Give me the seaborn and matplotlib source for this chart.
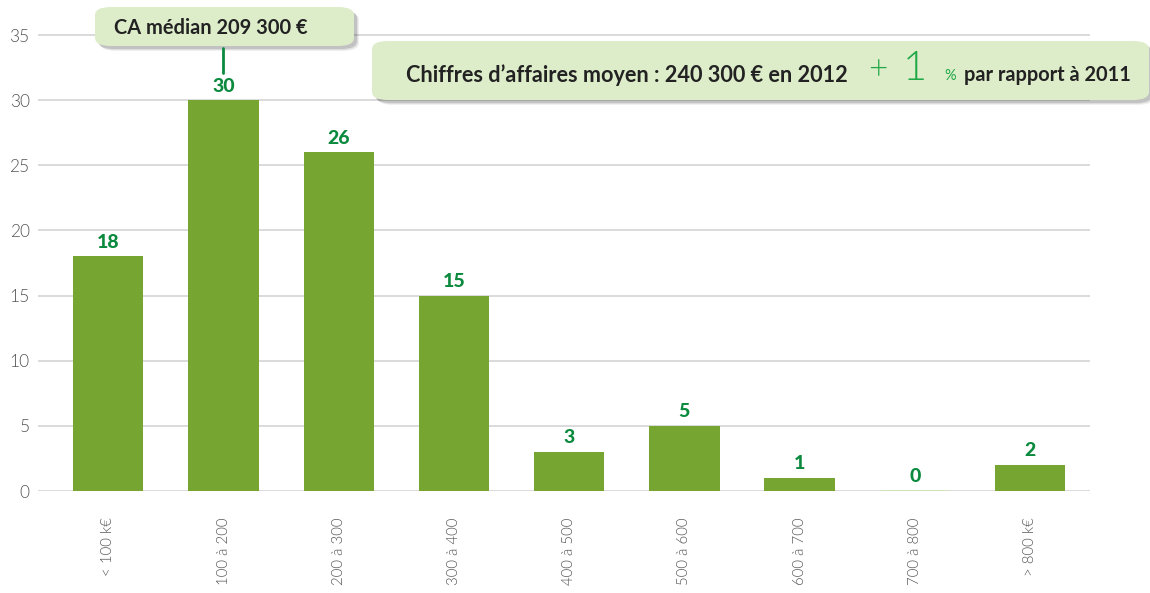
import matplotlib
matplotlib.use("Agg")
import matplotlib.pyplot as plt
import seaborn as sns
import pandas as pd
from matplotlib.patches import FancyBboxPatch

categories = ["< 100 k€", "100 à 200", "200 à 300", "300 à 400", "400 à 500",
              "500 à 600", "600 à 700", "700 à 800", "> 800 k€"]
values = [18, 30, 26, 15, 3, 5, 1, 0, 2]
yticks = [0, 5, 10, 15, 20, 25, 30, 35]
median_text = "CA médian 209 300 €"
mean_text = "Chiffres d’affaires moyen : 240 300 € en 2012"
delta_text = "1"
tail_text = "par rapport à 2011"

BAR = "#76A532"
VAL = "#0B8A3E"
GRID = "#D4D4D4"
BOX = "#DDEDC9"

sns.set_theme(style="white")
plt.rcParams["font.family"] = ["Lato", "DejaVu Sans"]

W, H = 1150, 593
fig = plt.figure(figsize=(W / 100, H / 100), dpi=100)
ax = fig.add_axes([38 / W, 1 - 491 / H, (1090 - 38) / W, 491 / H])

df = pd.DataFrame({"cat": categories, "val": values})
sns.barplot(data=df, x="cat", y="val", color=BAR, saturation=1, width=0.61,
            linewidth=0, ax=ax)

ax.set_xlim(-0.61, 8.52)
ax.set_ylim(0, 491 / (456 / 35))
ax.set_yticks(yticks)
for y in yticks:
    ax.axhline(y, color=GRID, lw=1.2, zorder=0)
for s in ax.spines.values():
    s.set_visible(False)
ax.set_xlabel("")
ax.set_ylabel("")
ax.tick_params(axis="y", length=0, pad=6, labelsize=12.5, labelcolor="#555555")
ax.tick_params(axis="x", length=0, pad=19, labelsize=10.8, labelcolor="#555555")
for lab in ax.get_yticklabels():
    lab.set_fontweight(300)
ax.set_xticks(range(len(categories)))
ax.set_xticklabels(categories, rotation=90, va="top", ha="center", fontweight=300)

# zero-height bar hint
ax.hlines(0, 7 - 0.3, 7 + 0.3, color="#CFE3B8", lw=2, zorder=3)

for i, v in enumerate(values):
    ax.annotate(str(v), (i, v), xytext=(0, 4), textcoords="offset points",
                ha="center", va="bottom", fontsize=14, fontweight=900, color=VAL)

def fx(x):
    return x / W

def fy(y):
    return 1 - y / H

def callout(x0, y0, x1, y1):
    for k, a in [(5, 0.06), (4, 0.08), (3, 0.12)]:
        sh = FancyBboxPatch((fx(x0 + k), fy(y1 + k)), fx(x1 - x0), (y1 - y0) / H,
                            boxstyle="round,pad=0,rounding_size=0.014",
                            transform=fig.transFigure, fc="#000000", ec="none",
                            alpha=a, zorder=5)
        fig.add_artist(sh)
    b = FancyBboxPatch((fx(x0), fy(y1)), fx(x1 - x0), (y1 - y0) / H,
                       boxstyle="round,pad=0,rounding_size=0.014",
                       transform=fig.transFigure, fc=BOX, ec="none", zorder=6)
    fig.add_artist(b)

callout(95, 7, 354, 46)
fig.text(fx(211), fy(28), median_text, ha="center", va="center", fontsize=14.4,
         fontweight="bold", color="#222222", zorder=7)
fig.add_artist(plt.Line2D([fx(223), fx(223)], [fy(48), fy(73)],
                          transform=fig.transFigure, color=VAL, lw=2, zorder=7))

callout(372, 41, 1149, 100)
fig.text(fx(406), fy(75), mean_text, ha="left", va="center", fontsize=15.6,
         fontweight="bold", color="#222222", zorder=7)
fig.text(fx(868), fy(70), "+", ha="left", va="center", fontsize=24,
         fontweight=300, color="#1FA847", zorder=7)
fig.text(fx(903), fy(68), delta_text, ha="left", va="center", fontsize=30,
         fontweight=300, color="#1FA847", zorder=7)
fig.text(fx(944), fy(76), "%", ha="left", va="center", fontsize=10.5,
         color="#1FA847", zorder=7)
fig.text(fx(964), fy(75), tail_text, ha="left", va="center", fontsize=14.4,
         fontweight="bold", color="#222222", zorder=7)

fig.savefig("out.png", dpi=100)
